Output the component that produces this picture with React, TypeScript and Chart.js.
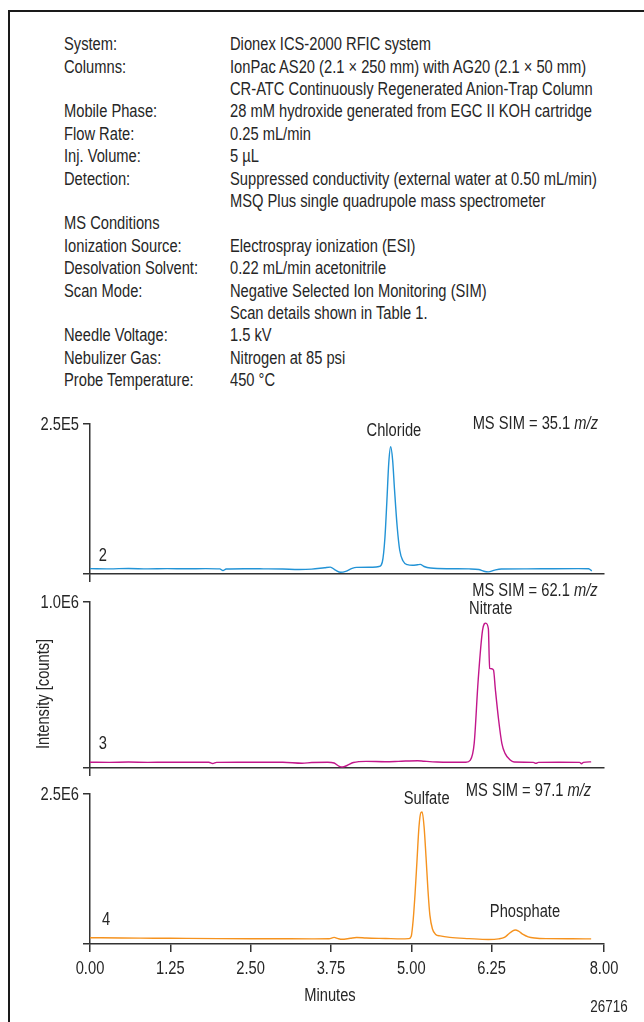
import React, { useEffect, useRef } from 'react';
import { Chart, registerables } from 'chart.js';

Chart.register(...registerables);

const FONT = '"Liberation Sans", Arial, sans-serif';
const TEXT = '#262626';
const AXIS = '#333333';
const FS = 17.5;
const SX = 0.84; // horizontal condensing of the text face

// ---- Conditions block ----
const conditionLabels = [
  'System:', 'Columns:', '', 'Mobile Phase:', 'Flow Rate:', 'Inj. Volume:', 'Detection:', '',
  'MS Conditions', 'Ionization Source:', 'Desolvation Solvent:', 'Scan Mode:', '',
  'Needle Voltage:', 'Nebulizer Gas:', 'Probe Temperature:',
];
const conditionValues = [
  'Dionex ICS-2000 RFIC system',
  'IonPac AS20 (2.1 × 250 mm) with AG20 (2.1 × 50 mm)',
  'CR-ATC Continuously Regenerated Anion-Trap Column',
  '28 mM hydroxide generated from EGC II KOH cartridge',
  '0.25 mL/min',
  '5 µL',
  'Suppressed conductivity (external water at 0.50 mL/min)',
  'MSQ Plus single quadrupole mass spectrometer',
  '',
  'Electrospray ionization (ESI)',
  '0.22 mL/min acetonitrile',
  'Negative Selected Ion Monitoring (SIM)',
  'Scan details shown in Table 1.',
  '1.5 kV',
  'Nitrogen at 85 psi',
  '450 °C',
];

// ---- Axis ticks ----
const timeTicks = [0, 1.25, 2.5, 3.75, 5.0, 6.25, 8.0];
const yMaxima = [250000, 1000000, 2500000];
const yMaxLabels = ['2.5E5', '1.0E6', '2.5E6'];

// ---- Chloride, MS SIM 35.1 m/z ----
const chlorideTime = [0, 0.3, 0.6, 0.9, 1.2, 1.5, 1.8, 2.02, 2.07, 2.12, 2.4, 2.7, 3.0, 3.25, 3.45, 3.65, 3.74, 3.82, 3.9, 3.98, 4.08, 4.15, 4.4, 4.5, 4.55, 4.59, 4.62, 4.65, 4.68, 4.71, 4.74, 4.78, 4.82, 4.87, 4.94, 5.02, 5.1, 5.14, 5.2, 5.3, 5.6, 5.9, 6.05, 6.13, 6.2, 6.3, 6.4, 6.8, 7.2, 7.6, 7.76, 7.81];
const chlorideSignal = [9000, 8600, 9200, 8500, 8900, 8700, 9000, 8600, 5800, 8400, 8800, 8600, 8300, 7600, 8200, 10500, 11500, 6500, 3000, 4500, 9500, 11000, 11300, 12500, 20000, 60000, 120000, 185000, 212000, 190000, 140000, 80000, 40000, 22000, 15500, 14500, 15500, 16000, 12500, 10000, 8800, 8500, 7500, 4500, 3500, 6500, 8300, 8600, 8800, 8900, 8700, 5000];

// ---- Nitrate, MS SIM 62.1 m/z ----
const nitrateTime = [0, 0.3, 0.6, 0.9, 1.2, 1.5, 1.85, 1.91, 1.97, 2.3, 2.7, 3.0, 3.3, 3.45, 3.7, 3.8, 3.88, 3.93, 4.0, 4.1, 4.3, 4.6, 4.8, 5.1, 5.2, 5.4, 5.6, 5.85, 5.92, 5.98, 6.04, 6.11, 6.16, 6.2, 6.22, 6.25, 6.28, 6.31, 6.36, 6.41, 6.46, 6.54, 6.6, 6.9, 6.94, 6.98, 7.3, 7.62, 7.65, 7.68, 7.8];
const nitrateSignal = [35000, 34000, 36000, 34000, 35000, 34500, 35000, 27000, 34000, 35000, 34500, 35000, 29000, 33000, 35000, 30000, 10000, 6000, 15000, 33000, 40000, 38000, 40000, 44000, 41000, 36000, 34500, 35000, 48000, 150000, 520000, 830000, 873000, 840000, 600000, 598000, 590000, 470000, 289000, 149000, 88000, 48000, 36000, 34000, 28000, 34000, 35000, 34000, 26000, 34000, 37000];

// ---- Sulfate / Phosphate, MS SIM 97.1 m/z ----
const sulfateTime = [0, 0.5, 1.0, 1.5, 2.0, 2.5, 3.0, 3.5, 3.72, 3.8, 3.86, 3.92, 4.05, 4.15, 4.3, 4.6, 4.85, 4.96, 5.0, 5.03, 5.06, 5.09, 5.12, 5.15, 5.17, 5.2, 5.23, 5.26, 5.29, 5.33, 5.38, 5.45, 5.6, 5.9, 6.2, 6.36, 6.45, 6.52, 6.58, 6.62, 6.67, 6.74, 6.82, 6.92, 7.1, 7.5, 7.8];
const sulfateSignal = [105000, 100000, 97000, 93000, 90000, 88000, 87000, 86000, 88000, 110000, 90000, 78000, 95000, 108000, 100000, 92000, 85000, 90000, 130000, 400000, 850000, 1400000, 1950000, 2190000, 2200000, 1950000, 1450000, 900000, 480000, 250000, 160000, 135000, 110000, 90000, 75000, 85000, 110000, 170000, 220000, 233000, 215000, 160000, 120000, 100000, 90000, 88000, 85000];

type Part = [string, boolean];
type Align = 'left' | 'center' | 'right';
type Note = { parts: Part[]; t: number; v: number; align: Align; size?: number; rotate?: boolean };

type Panel = {
  top: number; height: number; padTop: number; xAxisHeight: number;
  times: number[]; values: number[]; color: string;
  yMax: number; yLabel: string; showTimeLabels: boolean; notes: Note[];
};

const panels: Panel[] = [
  {
    top: 400, height: 190, padTop: 24, xAxisHeight: 16,
    times: chlorideTime, values: chlorideSignal, color: '#2293d6',
    yMax: yMaxima[0], yLabel: yMaxLabels[0], showTimeLabels: false,
    notes: [
      { parts: [['Chloride', false]], t: 4.73, v: 238000, align: 'center' },
      { parts: [['MS SIM = 35.1 ', false], ['m/z', true]], t: 7.907, v: 250000, align: 'right' },
      { parts: [['2', false]], t: 0.2, v: 30000, align: 'center' },
    ],
  },
  {
    top: 578, height: 206, padTop: 24, xAxisHeight: 16,
    times: nitrateTime, values: nitrateSignal, color: '#c2168b',
    yMax: yMaxima[1], yLabel: yMaxLabels[1], showTimeLabels: false,
    notes: [
      { parts: [['MS SIM = 62.1 ', false], ['m/z', true]], t: 7.9, v: 1066000, align: 'right' },
      { parts: [['Nitrate', false]], t: 5.9, v: 958000, align: 'left' },
      { parts: [['3', false]], t: 0.2, v: 145000, align: 'center' },
      { parts: [['Intensity [counts]', false]], t: -0.716, v: 446000, align: 'center', rotate: true },
    ],
  },
  {
    top: 775, height: 247, padTop: 19, xAxisHeight: 78,
    times: sulfateTime, values: sulfateSignal, color: '#f5921e',
    yMax: yMaxima[2], yLabel: yMaxLabels[2], showTimeLabels: true,
    notes: [
      { parts: [['MS SIM = 97.1 ', false], ['m/z', true]], t: 7.8, v: 2550000, align: 'right' },
      { parts: [['Sulfate', false]], t: 5.24, v: 2417000, align: 'center' },
      { parts: [['Phosphate', false]], t: 6.77, v: 533000, align: 'center' },
      { parts: [['4', false]], t: 0.25, v: 400000, align: 'center' },
      { parts: [['Minutes', false]], t: 3.735, v: -875000, align: 'center' },
    ],
  },
];

function fontStr(size: number, italic: boolean) {
  return `${italic ? 'italic ' : ''}${size}px ${FONT}`;
}

function drawParts(ctx: CanvasRenderingContext2D, parts: Part[], x: number, y: number, align: Align, size: number, rotate = false) {
  let total = 0;
  const widths = parts.map(([s, it]) => {
    ctx.font = fontStr(size, it);
    const w = ctx.measureText(s).width;
    total += w;
    return w;
  });
  ctx.save();
  ctx.translate(x, y);
  if (rotate) ctx.rotate(-Math.PI / 2);
  ctx.scale(SX, 1);
  ctx.textBaseline = 'middle';
  ctx.textAlign = 'left';
  let start = align === 'left' ? 0 : align === 'center' ? -total / 2 : -total;
  parts.forEach(([s, it], i) => {
    ctx.font = fontStr(size, it);
    ctx.fillText(s, start, 0);
    start += widths[i];
  });
  ctx.restore();
}

function textPlugin(p: Panel) {
  return {
    id: 'panelText',
    afterDraw(chart: any) {
      const ctx: CanvasRenderingContext2D = chart.ctx;
      const xs = chart.scales.x;
      const ys = chart.scales.y;
      ctx.save();
      ctx.fillStyle = TEXT;
      for (const tk of ys.ticks) {
        if (tk.value !== p.yMax) continue;
        drawParts(ctx, [[p.yLabel, false]], xs.left - 11, ys.getPixelForValue(tk.value) + 1, 'right', FS);
      }
      if (p.showTimeLabels) {
        for (const tk of xs.ticks) {
          drawParts(ctx, [[Number(tk.value).toFixed(2), false]], xs.getPixelForValue(tk.value), ys.bottom + 25, 'center', FS);
        }
      }
      for (const n of p.notes) {
        drawParts(ctx, n.parts, xs.getPixelForValue(n.t), ys.getPixelForValue(n.v), n.align, n.size || FS, !!n.rotate);
      }
      ctx.restore();
    },
  };
}

function PanelChart({ p }: { p: Panel }) {
  const ref = useRef<HTMLCanvasElement | null>(null);
  useEffect(() => {
    if (!ref.current) return;
    const chart = new Chart(ref.current, {
      type: 'line',
      data: {
        datasets: [
          {
            data: p.times.map((t, i) => ({ x: t, y: p.values[i] })),
            borderColor: p.color,
            borderWidth: 1.4,
            pointRadius: 0,
            cubicInterpolationMode: 'monotone',
            fill: false,
          },
        ],
      },
      options: {
        animation: false,
        responsive: false,
        maintainAspectRatio: false,
        devicePixelRatio: 1,
        layout: { padding: { top: p.padTop, right: 40, bottom: 0, left: 0 } },
        plugins: { legend: { display: false }, tooltip: { enabled: false } },
        scales: {
          x: {
            type: 'linear',
            position: 'bottom',
            min: 0,
            max: 8.0,
            afterBuildTicks: (s: any) => {
              s.ticks = (p.showTimeLabels ? timeTicks : [0]).map((v) => ({ value: v }));
            },
            afterFit: (s: any) => {
              s.height = p.xAxisHeight;
            },
            ticks: { display: false, autoSkip: false, maxRotation: 0 },
            grid: { drawOnChartArea: false, drawTicks: true, tickLength: 8, color: AXIS, lineWidth: 1.5 },
            border: { display: true, color: AXIS, width: 1.5 },
          },
          y: {
            type: 'linear',
            position: 'left',
            min: 0,
            max: p.yMax,
            afterBuildTicks: (s: any) => {
              s.ticks = [{ value: 0 }, { value: p.yMax }];
            },
            afterFit: (s: any) => {
              s.width = 90;
            },
            ticks: { display: false },
            grid: { drawOnChartArea: false, drawTicks: true, tickLength: 7, color: AXIS, lineWidth: 1.5 },
            border: { display: true, color: AXIS, width: 1.5 },
          },
        },
      } as any,
      plugins: [textPlugin(p)],
    } as any);
    return () => chart.destroy();
  }, [p]);
  return (
    <canvas
      ref={ref}
      width={644}
      height={p.height}
      style={{ position: 'absolute', left: 0, top: p.top, width: 644, height: p.height, display: 'block' }}
    />
  );
}

const textCell = (left: number, top: number, h: number): React.CSSProperties => ({
  position: 'absolute', left, top, height: h, lineHeight: `${h}px`, fontSize: FS, whiteSpace: 'nowrap',
  transform: `scaleX(${SX})`, transformOrigin: 'left center',
});

export default function App() {
  const rowTop = 33.1;
  const rowH = 22.4;
  return (
    <div
      style={{
        position: 'absolute', left: 0, top: 0, width: 644, height: 1022, overflow: 'hidden',
        background: '#ffffff', fontFamily: FONT, color: TEXT,
      }}
    >
      <div style={{ position: 'absolute', left: 7.5, top: 9.5, width: 640, height: 2, background: '#1a1a1a' }} />
      <div style={{ position: 'absolute', left: 7.5, top: 9.5, width: 2, height: 1020, background: '#1a1a1a' }} />
      {conditionLabels.map((lab, i) => (
        <React.Fragment key={i}>
          <div style={textCell(64, rowTop + rowH * i, rowH)}>{lab}</div>
          <div style={textCell(230, rowTop + rowH * i, rowH)}>{conditionValues[i]}</div>
        </React.Fragment>
      ))}
      {panels.map((p, i) => (
        <PanelChart key={i} p={p} />
      ))}
      <div
        style={{
          position: 'absolute', left: 609, top: 1007, transform: `translate(-50%, -50%) scaleX(${SX})`,
          fontSize: 16, whiteSpace: 'nowrap', lineHeight: '18px',
        }}
      >
        26716
      </div>
    </div>
  );
}
